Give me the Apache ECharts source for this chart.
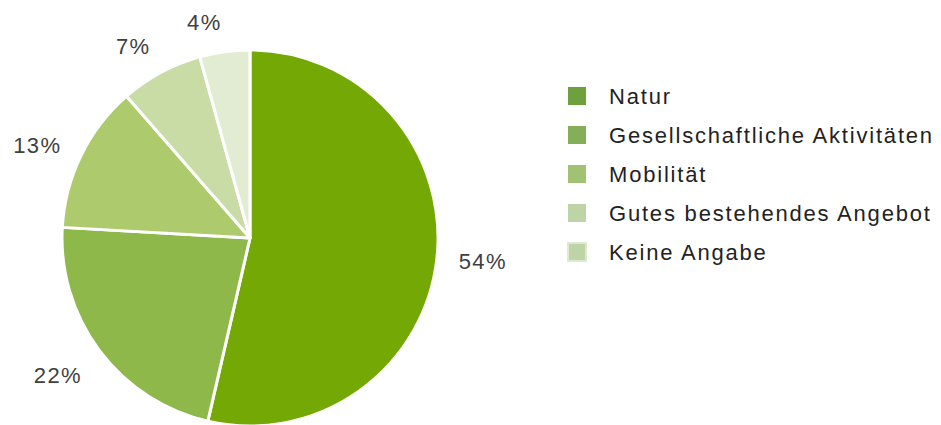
<!DOCTYPE html>
<html>
<head>
<meta charset="utf-8">
<script src="https://cdn.jsdelivr.net/npm/echarts@6/dist/echarts.min.js"></script>
<style>
  html, body { margin: 0; padding: 0; background: #fff; }
  #chart { width: 941px; height: 425px; }
  #chart text { letter-spacing: 1.4px; }
  #chart text.legend-text { letter-spacing: 1.8px; }
</style>
</head>
<body>
<div id="chart"></div>
<script>
  var categories = ['Natur', 'Gesellschaftliche Aktivitäten', 'Mobilität', 'Gutes bestehendes Angebot', 'Keine Angabe'];
  var values = [53.6, 22.3, 12.7, 7.1, 4.3];
  var sliceColors = ['#74a804', '#8fb84a', '#adcb6c', '#c9dca6', '#e1ecd3'];
  var legendColors = ['#6ea13d', '#84af58', '#a2c273', '#bcd4a6', '#bcd4a6'];

  var cx = 250, cy = 238, r = 188;
  var labelDist = r + 22;

  var chart = echarts.init(document.getElementById('chart'), null, { renderer: 'svg' });

  var total = values.reduce(function (a, b) { return a + b; }, 0);

  var pieData = categories.map(function (name, i) {
    return { name: name, value: values[i], itemStyle: { color: sliceColors[i] } };
  });

  var legendData = categories.map(function (name, i) {
    var item = { name: name, itemStyle: { color: legendColors[i], borderWidth: 0 } };
    if (i === 4) {
      item.itemStyle = { color: legendColors[i], borderColor: '#dfe9d0', borderWidth: 2 };
    }
    return item;
  });

  // place labels just outside the pie, nearest corner of the text towards the slice
  function placeLabel(params) {
    var i = params.dataIndex;
    var before = 0;
    for (var k = 0; k < i; k++) before += values[k];
    var mid = (before + values[i] / 2) / total * Math.PI * 2;
    var dx = Math.sin(mid), dy = -Math.cos(mid);
    var x = cx + dx * labelDist, y = cy + dy * labelDist;
    var vAlign = Math.abs(dy) < 0.5 ? 'middle' : (dy < 0 ? 'bottom' : 'top');
    if (vAlign === 'bottom') y += 4; // descender room
    return {
      x: x,
      y: y,
      align: dx < 0 ? 'right' : 'left',
      verticalAlign: vAlign
    };
  }

  var option = {
    animation: false,
    legend: {
      orient: 'vertical',
      left: 567,
      top: 85,
      padding: 0,
      itemWidth: 18,
      itemHeight: 18,
      itemGap: 17,
      icon: 'rect',
      selectedMode: false,
      textStyle: {
        fontFamily: 'Liberation Sans, Arial, sans-serif',
        fontSize: 22,
        color: '#222',
        padding: [0, 0, 0, 18]
      },
      data: legendData
    },
    series: [{
      type: 'pie',
      center: [cx, cy],
      radius: r,
      startAngle: 90,
      clockwise: true,
      avoidLabelOverlap: false,
      itemStyle: { borderColor: '#fff', borderWidth: 3 },
      label: {
        show: true,
        position: 'outside',
        formatter: function (p) { return Math.round(p.value) + '%'; },
        fontFamily: 'Liberation Sans, Arial, sans-serif',
        fontSize: 22,
        color: '#404040'
      },
      labelLine: { show: false },
      labelLayout: placeLabel,
      emphasis: { disabled: true },
      data: pieData
    }]
  };

  chart.setOption(option);

  // legend entries get a little wider tracking than the pie labels
  var legendNames = {};
  categories.forEach(function (c) { legendNames[c] = true; });
  document.querySelectorAll('#chart text').forEach(function (t) {
    if (legendNames[t.textContent]) t.setAttribute('class', 'legend-text');
  });
</script>
</body>
</html>
